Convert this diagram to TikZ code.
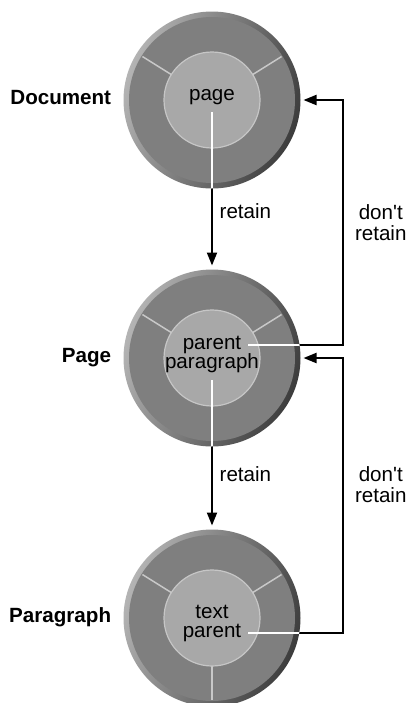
\documentclass[tikz,border=0pt]{standalone}
\usepackage{fontspec}
\setmainfont{Liberation Sans}
\usetikzlibrary{positioning, arrows.meta, calc}

\definecolor{ringgray}{HTML}{7F7F7F}
\definecolor{rimlight}{HTML}{B4B4B4}
\definecolor{rimdark}{HTML}{3C3C3C}
\definecolor{hubgray}{HTML}{A8A8A8}
\definecolor{hubedge}{HTML}{C6C6C6}
\definecolor{spokegray}{HTML}{C8C8C8}

\begin{document}
\begin{tikzpicture}
[
    font = \fontsize{10.3}{10.5}\selectfont,
    ring/.style = {circle, minimum size = 88.5pt, inner sep = 0pt, outer sep = 0pt,
                   left color = rimlight, right color = rimdark, shading angle = 70},
    hub/.style = {circle, minimum size = 48pt, inner sep = 0pt, outer sep = 0pt,
                  fill = hubgray, draw = hubedge, line width = 0.6pt},
    spoke/.style = {spokegray, line width = 0.75pt},
    intext/.style = {inner sep = 3pt, text height = 7.5pt, text depth = 3pt, anchor = base},
    level/.style = {font = \fontsize{10.3}{10.5}\selectfont\bfseries, inner sep = 0pt,
                    text height = 7.4pt, text depth = 0pt},
    flow/.style = {line width = 1pt, -{Triangle[length = 6.5pt, width = 5pt]}},
    inside/.style = {white, line width = 1pt},
    note/.style = {align = center, inner sep = 0pt}
  ]

  \useasboundingbox (0,0) rectangle (203pt,-351.5pt);

  % the three levels
  \node[ring] (doc) at (106pt,-50pt) {};
  \node[ring, below = 40.5pt of doc] (pg) {};
  \node[ring, below = 41.5pt of pg] (par) {};

  \foreach \r in {doc, pg, par} {
    \fill[ringgray] (\r.center) circle (41.5pt);
    \foreach \a in {32, 148}
      \draw[spoke] (\r.center) ++(\a:24pt) -- ++(\a:17pt);
  }
  \draw[spoke] (par.center) ++(270:24pt) -- ++(270:17pt);

  \node[hub] (dochub) at (doc.center) {};
  \node[hub] (pghub) at (pg.center) {};
  \node[hub] (parhub) at (par.center) {};

  % texts in the hubs
  \node[intext] (page) at (doc.center) {page};
  \node[intext] (pp1) at ([yshift=4.5pt]pg.center) {parent};
  \node[intext] (pp2) at ([yshift=-5pt]pg.center) {paragraph};
  \node[intext] (tp1) at ([yshift=0pt]par.center) {text};
  \node[intext] (tp2) at ([yshift=-9.5pt]par.center) {parent};

  % level names
  \node[level, left = 6pt of doc, yshift = 1.5pt] (docname) {Document};
  \node[level, left = 6pt of pg, yshift = 1.5pt] (pgname) {Page};
  \node[level, left = 6pt of par, yshift = 1.5pt] (parname) {Paragraph};

  \coordinate (rx) at (171.5pt,0);

  % retain
  \draw[flow, shorten >= 2pt] (page.south) -- node[pos = 0.63, right] {retain} (pg.north);
  \draw[flow, shorten >= 2pt] (pp2.south) -- node[pos = 0.63, right] {retain} (par.north);

  % don't retain
  \draw[flow, shorten >= 1.5pt] (pp1.east) -- (pp1.east -| rx)
    |- node[note, pos = 0.25, right = 5.5pt] {don\textquotesingle t\\retain} (doc.east);
  \draw[flow, shorten >= 1.5pt] (tp2.east) -- (tp2.east -| rx)
    |- node[note, pos = 0.27, right = 5.5pt] {don\textquotesingle t\\retain} (pg.east);

  % white where the connectors cross a level
  \begin{scope}
    \clip (doc.center) circle (44.25pt);
    \draw[inside] (page.south) -- (pg.north);
  \end{scope}
  \begin{scope}
    \clip (pg.center) circle (44.25pt);
    \draw[inside] (pp2.south) -- (par.north);
    \draw[inside] (pp1.east) -- (pp1.east -| rx);
  \end{scope}
  \begin{scope}
    \clip (par.center) circle (44.25pt);
    \draw[inside] (tp2.east) -- (tp2.east -| rx);
  \end{scope}

\end{tikzpicture}
\end{document}
